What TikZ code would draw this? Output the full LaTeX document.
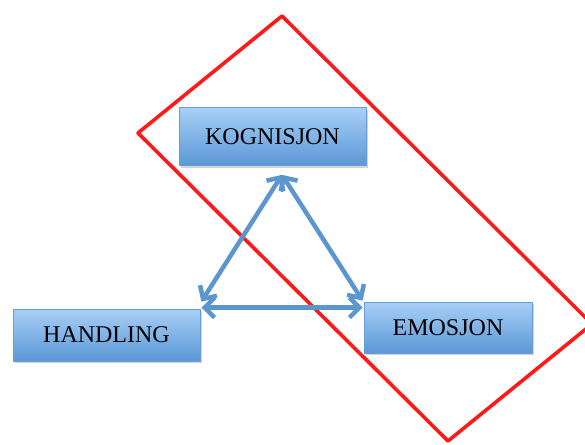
\documentclass[tikz,border=0pt]{standalone}
\usepackage{fontspec}
\setmainfont{Liberation Serif}
\usepackage{xcolor}
\usetikzlibrary{arrows.meta,shadows}

\definecolor{boxtop}{HTML}{A9CFF7}
\definecolor{boxbot}{HTML}{5A98D6}
\definecolor{boxline}{HTML}{6A9ED6}
\definecolor{arrowblue}{HTML}{5B96CE}
\definecolor{framered}{HTML}{FF1A1A}

\begin{document}
\begin{tikzpicture}[
				x=1pt,
				y=-1pt,
				line cap=round,
				line join=round,
				every node/.style={font=\fontsize{24}{28}\selectfont},
				conceptbox/.style={draw=boxline,line width=0.8pt,
					top color=boxtop,bottom color=boxbot,
					inner sep=0pt,
					drop shadow={shadow xshift=1.5pt,shadow yshift=-2pt,opacity=0.35}},
				link/.style={arrowblue,line width=4.5pt,
					{Straight Barb[length=10pt,width=20pt,line width=4.5pt]}-{Straight Barb[length=10pt,width=20pt,line width=4.5pt]}}
				]
				\useasboundingbox (0,0) rectangle (585,444);
				
				\coordinate (rtop) at (282,16);
				\coordinate (rleft) at (138,133);
				\coordinate (rbottom) at (448,441);
				\coordinate (rright) at (592,324);
				\draw[framered,line width=3.6pt]
				(rtop) -- (rleft) -- (rbottom) -- (rright) -- cycle;
				
				\node[conceptbox,minimum width=187pt,minimum height=58pt]
				(kog) at (272.5,136.5) {KOGNISJON};
				\node[conceptbox,minimum width=187pt,minimum height=52pt]
				(han) at (106.5,335) {HANDLING};
				\node[conceptbox,minimum width=168pt,minimum height=51pt]
				(emo) at (448,327.5) {EMOSJON};
				
				\coordinate (kpt) at ([xshift=9.5pt,yshift=-9pt]kog.south);
				\coordinate (hpt) at ([xshift=1pt,yshift=7pt]han.north east);
				\coordinate (hptlow) at ([xshift=1pt,yshift=1pt]han.north east);
				\coordinate (ept) at ([xshift=-1pt,yshift=1pt]emo.north west);
				\coordinate (eptlow) at ([xshift=-1pt,yshift=-6pt]emo.north west);
				
				\draw[link] (kpt) -- (hpt);
				\draw[link] (kpt) -- (ept);
				\draw[link] (hptlow) -- (eptlow);
			\end{tikzpicture}
\end{document}
